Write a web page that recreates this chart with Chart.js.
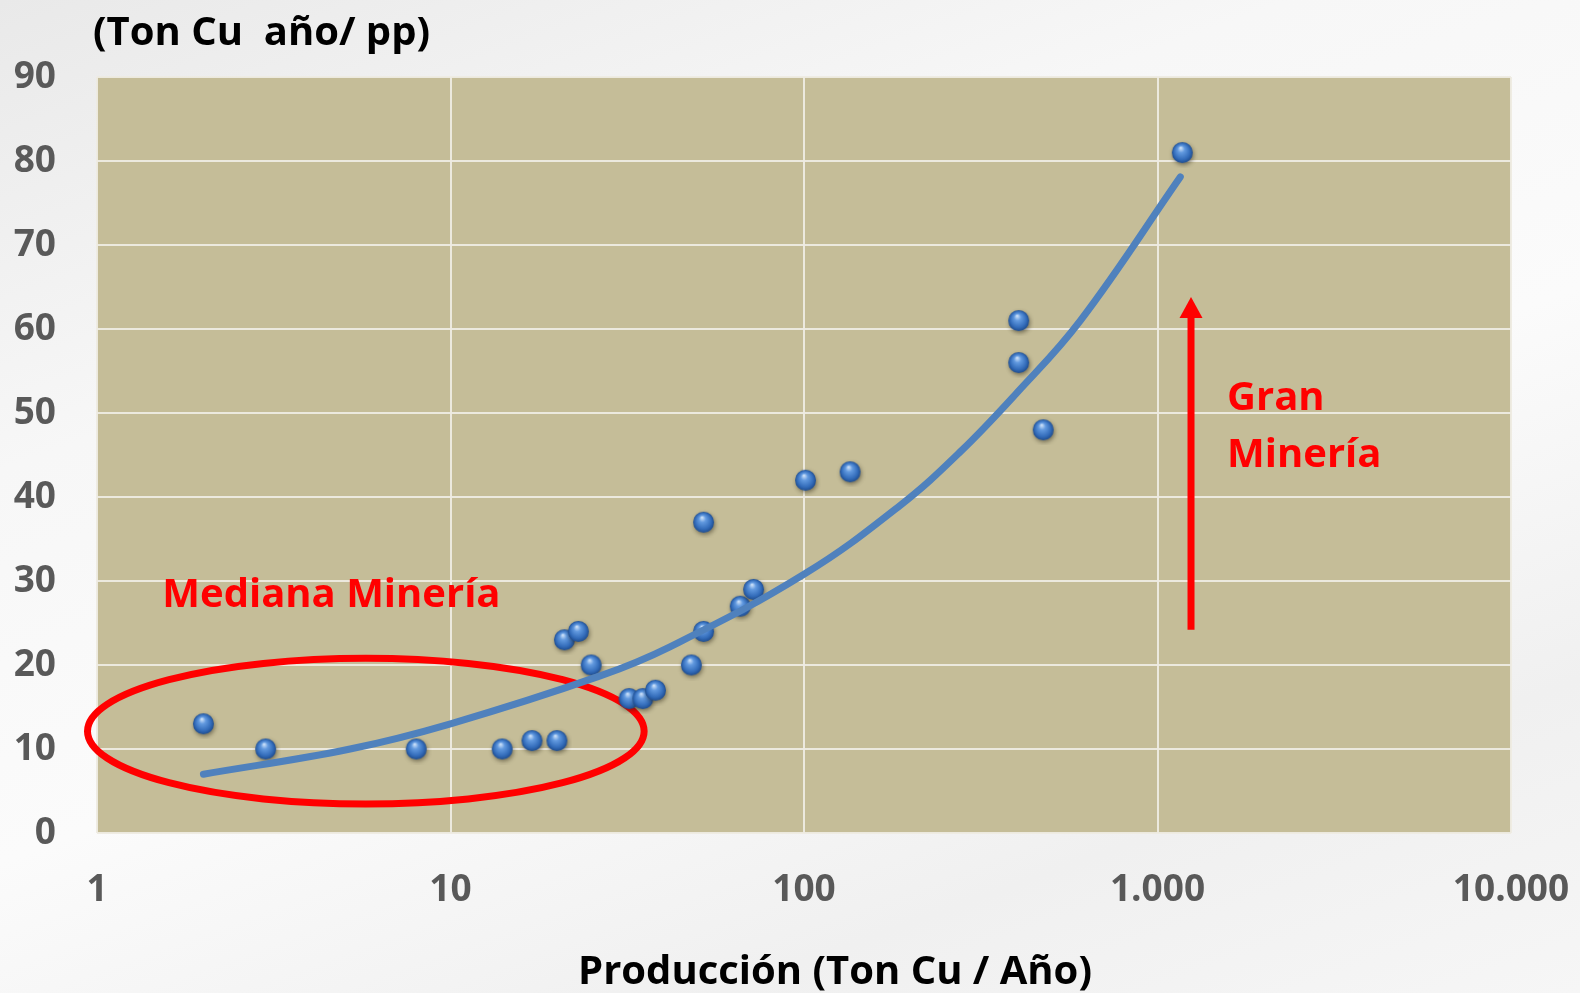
<!DOCTYPE html>
<html lang="es">
<head>
<meta charset="utf-8">
<title>Costo vs Producción</title>
<script src="https://cdn.jsdelivr.net/npm/chart.js@4.4.1/dist/chart.umd.min.js"></script>
<style>
  html, body { margin: 0; padding: 0; }
  body {
    width: 1580px; height: 993px; overflow: hidden;
    background: linear-gradient(160deg, #e9e9e9 0%, #f7f7f7 30%, #fbfbfb 55%, #f0f0f0 80%, #f6f6f6 100%);
  }
  #wrap { position: relative; width: 1580px; height: 993px; }
</style>
</head>
<body>
<div id="wrap"><canvas id="chart"></canvas></div>
<script>
// Producción (Ton Cu / Año) vs costo (Ton Cu año / pp)
const prodX = [2, 3, 8, 14, 17, 20, 21, 23, 25, 32, 35, 38, 48, 52, 52, 66, 72, 101, 135, 405, 405, 475, 1175];
const costY = [13, 10, 10, 10, 11, 11, 23, 24, 20, 16, 16, 17, 20, 24, 37, 27, 29, 42, 43, 61, 56, 48, 81];

// tendencia
const trendX = [2, 5.2, 10, 26.5, 41.9, 100, 187, 277, 400, 605, 1160];
const trendY = [7, 10, 13, 18.7, 22.2, 30.8, 39.0, 45.4, 52.4, 61.0, 78.1];

const xTickValues = [1, 10, 100, 1000, 10000];
const xTickLabels = ['1', '10', '100', '1.000', '10.000'];

const yTitle = '(Ton Cu  año/ pp)';
const xTitle = 'Producción (Ton Cu / Año)';

// anotaciones en coordenadas de datos
const ellipseBox = { xMin: 0.94, xMax: 35.3, yMin: 3.45, yMax: 20.8 };
const arrowSpec = { x: 1244, yFrom: 24.2, yTo: 63.8 };
const labelMediana = { text: 'Mediana Minería', x: 1.53, y: 26.9 };
const labelGran = { lines: ['Gran', 'Minería'], x: 1573, y: [50.3, 43.6] };

const RED = '#ff0000';
const FONT = "'Open Sans', 'Noto Sans', sans-serif";

function makeSphere(r) {
    const pad = 5;
    const c = document.createElement('canvas');
    c.width = c.height = (r + pad) * 2;
    const g = c.getContext('2d');
    const cx = r + pad, cy = r + pad;
    g.save();
    g.shadowColor = 'rgba(40,35,20,0.5)';
    g.shadowBlur = 4;
    g.shadowOffsetX = 1;
    g.shadowOffsetY = 2;
    const grad = g.createRadialGradient(cx - r * 0.15, cy - r * 0.45, r * 0.05, cx, cy, r);
    grad.addColorStop(0, '#c8def8');
    grad.addColorStop(0.3, '#6199df');
    grad.addColorStop(0.75, '#336cba');
    grad.addColorStop(1, '#1f4d8f');
    g.fillStyle = grad;
    g.beginPath();
    g.arc(cx, cy, r, 0, Math.PI * 2);
    g.fill();
    g.restore();
    return c;
}

const sphere = makeSphere(10.5);

const backgroundPlugin = {
    id: 'plotBackground',
    beforeDraw(chart) {
        const { ctx, chartArea: a } = chart;
        ctx.save();
        ctx.fillStyle = '#c5bd98';
        ctx.fillRect(a.left, a.top, a.right - a.left, a.bottom - a.top);
        ctx.restore();
    }
};

const annotationPlugin = {
    id: 'annotations',
    beforeDatasetsDraw(chart) {
        const { ctx, scales: { x, y } } = chart;
        const l = x.getPixelForValue(ellipseBox.xMin);
        const r = x.getPixelForValue(ellipseBox.xMax);
        const t = y.getPixelForValue(ellipseBox.yMax);
        const b = y.getPixelForValue(ellipseBox.yMin);
        ctx.save();
        ctx.strokeStyle = RED;
        ctx.lineWidth = 7;
        ctx.beginPath();
        ctx.ellipse((l + r) / 2, (t + b) / 2, (r - l) / 2, (b - t) / 2, 0, 0, Math.PI * 2);
        ctx.stroke();
        ctx.restore();
    },
    afterDatasetsDraw(chart) {
        const { ctx, scales: { x, y } } = chart;
        ctx.save();
        // flecha
        const ax = x.getPixelForValue(arrowSpec.x);
        const y0 = y.getPixelForValue(arrowSpec.yFrom);
        const y1 = y.getPixelForValue(arrowSpec.yTo);
        ctx.strokeStyle = RED;
        ctx.fillStyle = RED;
        ctx.lineWidth = 7;
        ctx.beginPath();
        ctx.moveTo(ax, y0);
        ctx.lineTo(ax, y1 + 18);
        ctx.stroke();
        ctx.beginPath();
        ctx.moveTo(ax, y1);
        ctx.lineTo(ax - 11.5, y1 + 21);
        ctx.lineTo(ax + 11.5, y1 + 21);
        ctx.closePath();
        ctx.fill();

        // textos
        ctx.font = 'bold 40px ' + FONT;
        ctx.textAlign = 'left';
        ctx.textBaseline = 'alphabetic';
        ctx.fillText(labelMediana.text, x.getPixelForValue(labelMediana.x), y.getPixelForValue(labelMediana.y));
        labelGran.lines.forEach((line, i) => {
            ctx.fillText(line, x.getPixelForValue(labelGran.x), y.getPixelForValue(labelGran.y[i]));
        });
        ctx.restore();
    },
    afterDraw(chart) {
        const { ctx } = chart;
        ctx.save();
        ctx.fillStyle = '#000000';
        ctx.font = 'bold 40px ' + FONT;
        ctx.textBaseline = 'alphabetic';
        ctx.textAlign = 'left';
        ctx.fillText(yTitle, 93, 45);
        ctx.font = 'bold 40px ' + FONT;
        ctx.textAlign = 'center';
        ctx.fillText(xTitle, 835, 984);
        ctx.restore();
    }
};

Chart.defaults.font.family = FONT;

const gridColor = 'rgba(238,235,226,0.95)';

new Chart(document.getElementById('chart'), {
    type: 'scatter',
    data: {
        datasets: [
            {
                type: 'line',
                label: 'Tendencia',
                data: trendX.map((v, i) => ({ x: v, y: trendY[i] })),
                borderColor: '#4f81bd',
                borderWidth: 7,
                borderCapStyle: 'round',
                pointRadius: 0,
                tension: 0.4,
                fill: false,
                order: 0
            },
            {
                label: 'Faenas',
                data: prodX.map((v, i) => ({ x: v, y: costY[i] })),
                pointStyle: sphere,
                pointRadius: 10.5,
                order: 1
            }
        ]
    },
    options: {
        responsive: true,
        maintainAspectRatio: false,
        animation: false,
        layout: { padding: { top: 77, right: 69, left: 0, bottom: 0 } },
        plugins: {
            legend: { display: false },
            tooltip: { enabled: false }
        },
        scales: {
            x: {
                type: 'logarithmic',
                min: 1,
                max: 10000,
                afterBuildTicks(scale) {
                    scale.ticks = xTickValues.map(v => ({ value: v }));
                },
                afterFit(scale) {
                    scale.height = 160;
                    scale.paddingLeft = 0;
                    scale.paddingRight = 0;
                },
                grid: { color: gridColor, lineWidth: 2, drawTicks: false },
                border: { display: false },
                ticks: {
                    autoSkip: false,
                    maxRotation: 0,
                    padding: 35,
                    color: '#595959',
                    font: { size: 37, weight: 'bold' },
                    callback: (val, idx) => xTickLabels[idx]
                }
            },
            y: {
                min: 0,
                max: 90,
                afterFit(scale) { scale.width = 97; },
                grid: { color: gridColor, lineWidth: 2, drawTicks: false },
                border: { display: false },
                ticks: {
                    stepSize: 10,
                    padding: 41,
                    color: '#595959',
                    font: { size: 37, weight: 'bold' }
                }
            }
        }
    },
    plugins: [backgroundPlugin, annotationPlugin]
});
</script>
</body>
</html>
